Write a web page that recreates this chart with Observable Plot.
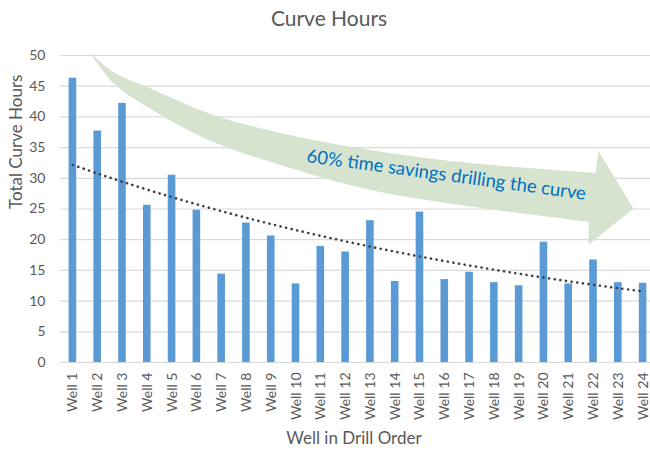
<!DOCTYPE html>
<html>
<head>
<meta charset="utf-8">
<script src="https://cdn.jsdelivr.net/npm/d3@7"></script>
<script src="https://cdn.jsdelivr.net/npm/@observablehq/plot@0.6"></script>
<style>
  html, body { margin: 0; padding: 0; background: #fff; }
  body { width: 650px; height: 455px; overflow: hidden; font-family: Lato, "Open Sans", sans-serif; }
  #title { height: 40px; text-align: center; font-size: 21px; color: #595959; line-height: 36px; padding-left: 8px; box-sizing: border-box; }
  svg { display: block; overflow: visible; }
</style>
</head>
<body>
<div id="title">Curve Hours</div>
<div id="chart"></div>
<script>
// ---- data ----
const wells = ["Well 1","Well 2","Well 3","Well 4","Well 5","Well 6","Well 7","Well 8","Well 9","Well 10","Well 11","Well 12","Well 13","Well 14","Well 15","Well 16","Well 17","Well 18","Well 19","Well 20","Well 21","Well 22","Well 23","Well 24"];
const hours = [46.3, 37.7, 42.2, 25.6, 30.5, 24.8, 14.4, 22.7, 20.6, 12.8, 18.9, 18.0, 23.1, 13.2, 24.5, 13.5, 14.7, 13.0, 12.5, 19.6, 12.8, 16.7, 13.0, 12.9];
const yTicks = [0, 5, 10, 15, 20, 25, 30, 35, 40, 45, 50];
const yLabel = "Total Curve Hours";
const xLabel = "Well in Drill Order";
const annotationText = "60% time savings drilling the curve";
// arrow outline in data units: [well position (1..24), hours]
const arrowTop = [[1.72, 50.33], [2.65, 47.23], [4.02, 44.79], [6.68, 40.24], [9.39, 37.31], [13.02, 34.54], [16.65, 32.59], [22.10, 30.80]];
const arrowHead = [[22.22, 34.38], [23.63, 24.94], [21.82, 19.09]];
const arrowBottom = [[21.82, 22.83], [16.65, 25.59], [13.02, 28.03], [9.39, 32.10], [6.68, 35.84], [4.02, 41.54], [2.65, 45.44], [1.72, 50.33]];
const annotationAt = [16.05, 29.5];

// ---- exponential trendline (least squares fit of ln(hours) vs well index) ----
const idx = hours.map((_, i) => i + 1);
const lnH = hours.map(Math.log);
const mx = d3.mean(idx), my = d3.mean(lnH);
const slope = d3.sum(idx, (x, i) => (x - mx) * (lnH[i] - my)) / d3.sum(idx, x => (x - mx) ** 2);
const intercept = my - slope * mx;

const data = wells.map((w, i) => ({well: w, hours: hours[i], trend: Math.exp(intercept + slope * (i + 1))}));

const textColor = "#595959";
const font = "Lato, 'Open Sans', sans-serif";

const chart = Plot.plot({
  width: 650,
  height: 415,
  marginTop: 15,
  marginBottom: 93,
  marginLeft: 60,
  marginRight: -5,
  style: {fontFamily: font, fontSize: "14px", color: textColor, background: "transparent"},
  x: {domain: wells, padding: 0, round: false, label: null},
  y: {domain: [0, 50], label: null},
  marks: [
    Plot.gridY(yTicks, {stroke: "#d9d9d9", strokeOpacity: 1, strokeWidth: 1.2}),
    Plot.barY(data, {x: "well", y: "hours", fill: "#5b9bd5", insetLeft: 8.6, insetRight: 8.6}),
    Plot.line(data, {x: "well", y: "trend", stroke: "#404040", strokeWidth: 2.6, strokeDasharray: "0.1,5.6", strokeLinecap: "round", curve: "catmull-rom"}),
    Plot.axisY(yTicks, {tickSize: 0, tickPadding: 15, label: null, fontSize: 14, fill: textColor}),
    Plot.axisX({tickSize: 0, tickPadding: 10, tickRotate: -90, label: null, fontSize: 14, fill: textColor}),
    Plot.text([yLabel], {frameAnchor: "left", dx: -44, rotate: -90, fontSize: 17, fill: textColor}),
    Plot.text([xLabel], {frameAnchor: "bottom", dx: -4, dy: 81, fontSize: 17, fill: textColor})
  ]
});

document.getElementById("chart").appendChild(chart);

// ---- curved arrow annotation, placed through the chart's scales ----
const xs = chart.scale("x"), ys = chart.scale("y");
const step = xs.apply(wells[1]) - xs.apply(wells[0]);
const x0 = xs.apply(wells[0]) + step / 2;
const px = p => x0 + (p - 1) * step;
const py = h => ys.apply(h);
const toPix = ([p, h]) => [px(p), py(h)];
const curve = d3.line().curve(d3.curveCatmullRom.alpha(0.5));
let path = curve(arrowTop.map(toPix));
arrowHead.map(toPix).forEach(([a, b]) => { path += `L${a},${b}`; });
path += curve(arrowBottom.map(toPix)).replace(/^M/, "L") + "Z";

const svg = d3.select(chart);
const barsGroup = chart.querySelector('g[aria-label="bar"]');
const arrow = document.createElementNS("http://www.w3.org/2000/svg", "path");
arrow.setAttribute("d", path);
arrow.setAttribute("fill", "#d6e4cf");
chart.insertBefore(arrow, barsGroup);

const [ax, ay] = toPix(annotationAt);
svg.append("text")
  .attr("transform", `translate(${ax},${ay}) rotate(7.7)`)
  .attr("text-anchor", "middle")
  .attr("fill", "#0070c0")
  .attr("font-family", font)
  .attr("font-size", 18.5)
  .text(annotationText);
</script>
</body>
</html>
